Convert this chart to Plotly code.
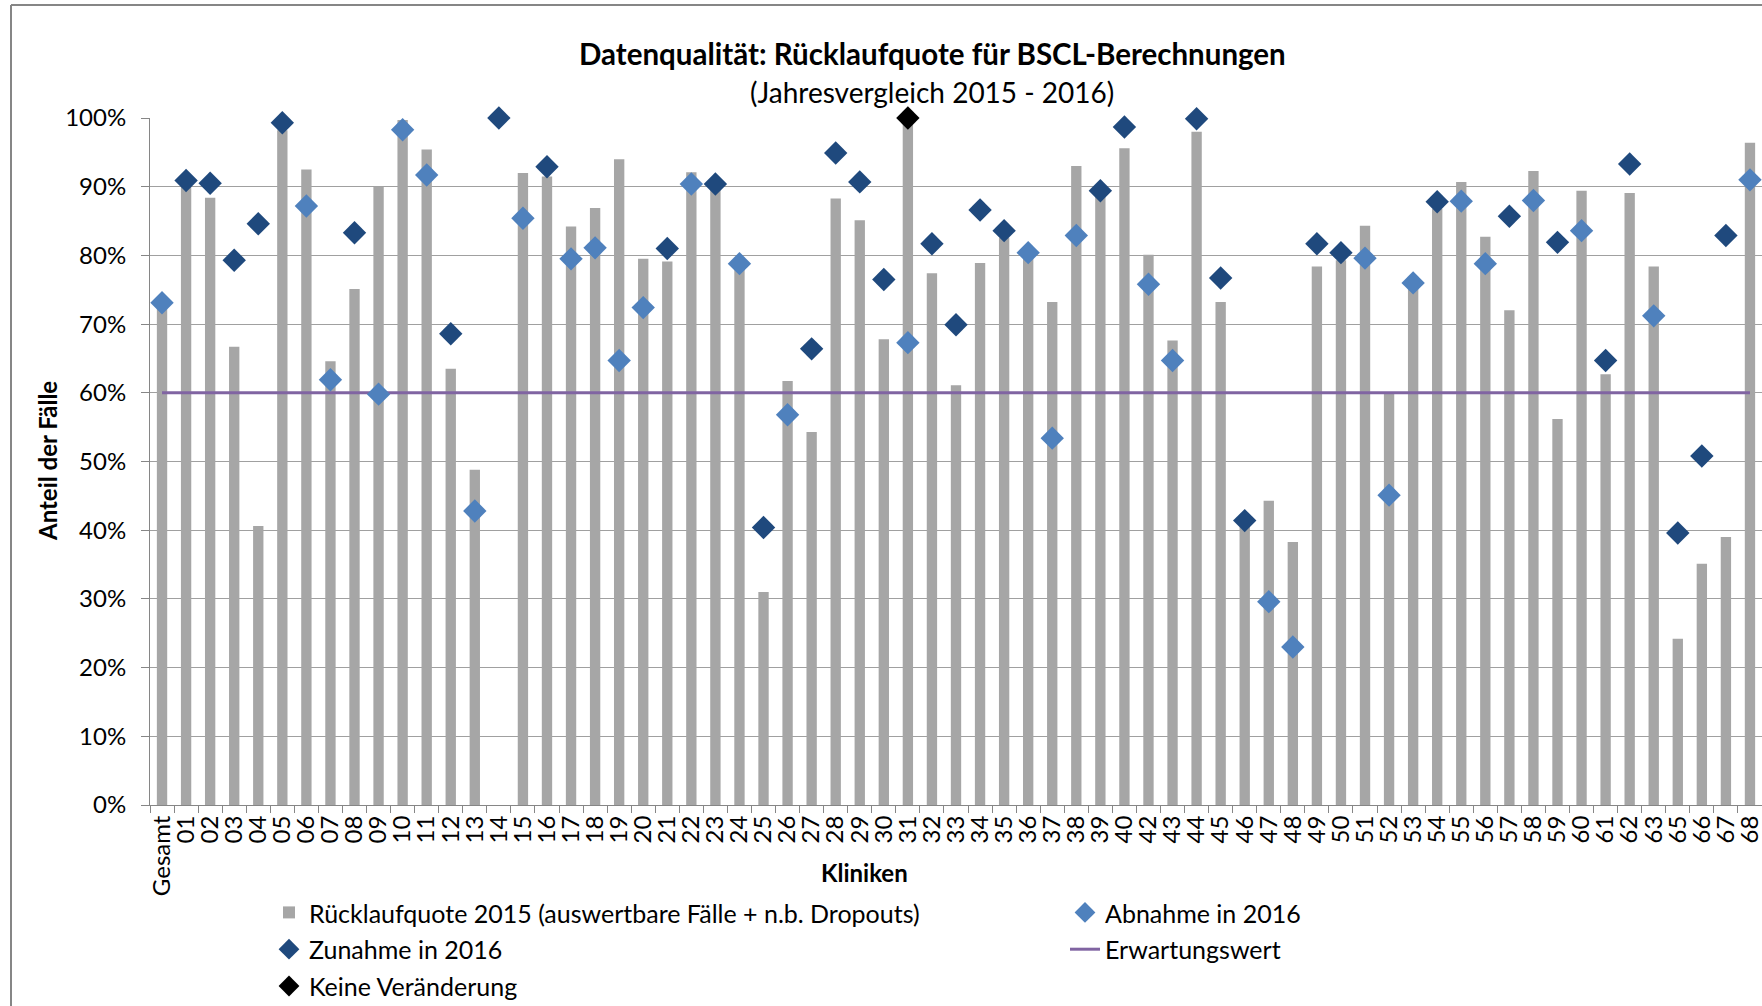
import plotly.graph_objects as go

categories = ["Gesamt", "01", "02", "03", "04", "05", "06", "07", "08", "09", "10",
              "11", "12", "13", "14", "15", "16", "17", "18", "19", "20",
              "21", "22", "23", "24", "25", "26", "27", "28", "29", "30",
              "31", "32", "33", "34", "35", "36", "37", "38", "39", "40",
              "42", "43", "44", "45", "46", "47", "48", "49", "50",
              "51", "52", "53", "54", "55", "56", "57", "58", "59", "60",
              "61", "62", "63", "65", "66", "67", "68"]

rate_2015 = [73.6, 90.0, 88.4, 66.7, 40.6, 98.2, 92.5, 64.6, 75.1, 90.0, 99.7,
             95.4, 63.5, 48.8, None, 92.0, 91.5, 84.2, 86.9, 94.0, 79.5,
             79.1, 92.1, 89.7, 79.5, 31.0, 61.7, 54.3, 88.3, 85.1, 67.8,
             100.0, 77.4, 61.1, 78.9, 82.6, 81.0, 73.2, 93.0, 88.5, 95.6,
             80.1, 67.6, 98.0, 73.2, 40.5, 44.3, 38.3, 78.4, 79.3,
             84.3, 59.9, 76.5, 86.8, 90.7, 82.7, 72.0, 92.3, 56.2, 89.4,
             62.7, 89.1, 78.4, 24.2, 35.1, 39.0, 96.4]

abnahme_2016 = [73.1, None, None, None, None, None, 87.2, 61.9, None, 59.8, 98.3,
                91.7, None, 42.8, None, 85.4, None, 79.5, 81.1, 64.7, 72.4,
                None, 90.4, None, 78.8, None, 56.8, None, None, None, None,
                67.3, None, None, None, None, 80.4, 53.4, 82.9, None, None,
                75.8, 64.7, None, None, None, 29.6, 23.0, None, None,
                79.6, 45.1, 76.0, None, 87.9, 78.8, None, 88.0, None, 83.6,
                None, None, 71.2, None, None, None, 91.0]

zunahme_2016 = [None, 90.9, 90.5, 79.3, 84.6, 99.3, None, None, 83.3, None, None,
                None, 68.6, None, 100.0, None, 92.9, None, None, None, None,
                81.0, None, 90.4, None, 40.4, None, 66.4, 94.9, 90.7, 76.5,
                None, 81.7, 69.9, 86.6, 83.6, None, None, None, 89.4, 98.7,
                None, None, 99.9, 76.7, 41.4, None, None, 81.7, 80.4,
                None, None, None, 87.8, None, None, 85.7, None, 81.9, None,
                64.7, 93.3, None, 39.6, 50.8, 82.9, None]

keine_2016 = [None] * 31 + [100.0] + [None] * 35

erwartungswert = [60.0] * len(categories)

y_ticks = [0, 10, 20, 30, 40, 50, 60, 70, 80, 90, 100]
y_tick_labels = ["0%", "10%", "20%", "30%", "40%", "50%", "60%", "70%",
                 "80%", "90%", "100%"]

title_text = "Datenqualität: Rücklaufquote für BSCL-Berechnungen"
subtitle_text = "(Jahresvergleich 2015 - 2016)"
y_title = "Anteil der Fälle"
x_title = "Kliniken"
legend_names = ["Rücklaufquote 2015 (auswertbare Fälle + n.b. Dropouts)",
                "Abnahme in 2016", "Zunahme in 2016", "Erwartungswert",
                "Keine Veränderung"]

# ---- layout geometry (pixels) ----
W, H = 1762, 1006
L, R, T, B = 150, 0, 118, 201
PW = W - L - R
PH = H - T - B


def px(x):
    return (x - L) / PW


def py(y):
    return (H - B - y) / PH


FONT = "Lato, 'Open Sans', sans-serif"


def lname(s):
    return f"<span style='font-size:25px'>{s}</span>"


fig = go.Figure()

fig.add_trace(go.Bar(
    x=categories, y=rate_2015, name=lname(legend_names[0]),
    marker=dict(color="#A6A6A6", line=dict(width=0)),
    width=0.43, legendrank=1))

fig.add_trace(go.Scatter(
    x=categories, y=erwartungswert, name=lname(legend_names[3]),
    mode="lines", line=dict(color="#8064A2", width=3), legendrank=4,
    cliponaxis=False))

fig.add_trace(go.Scatter(
    x=categories, y=abnahme_2016, name=lname(legend_names[1]),
    mode="markers", marker=dict(symbol="diamond", size=18, color="#4F81BD"),
    legendrank=2, cliponaxis=False))

fig.add_trace(go.Scatter(
    x=categories, y=zunahme_2016, name=lname(legend_names[2]),
    mode="markers", marker=dict(symbol="diamond", size=18, color="#1F497D"),
    legendrank=3, cliponaxis=False))

fig.add_trace(go.Scatter(
    x=categories, y=keine_2016, name=lname(legend_names[4]),
    mode="markers", marker=dict(symbol="diamond", size=18, color="#000000"),
    legendrank=5, cliponaxis=False))

fig.update_layout(
    width=W, height=H,
    margin=dict(l=L, r=R, t=T, b=B, autoexpand=False),
    paper_bgcolor="white", plot_bgcolor="white",
    font=dict(family=FONT, size=24, color="#000000"),
    showlegend=True,
    legend=dict(orientation="h", x=px(269), y=py(889), xanchor="left",
                yanchor="top", entrywidth=751, entrywidthmode="pixels",
                font=dict(family=FONT, size=26, color="#000000"),
                bgcolor="rgba(0,0,0,0)", traceorder="normal"),
    xaxis=dict(type="category", categoryorder="array", categoryarray=categories,
               tickmode="array", tickvals=categories, ticktext=categories,
               range=[-0.5, len(categories) - 0.5],
               tickangle=-90, tickson="boundaries", ticks="outside",
               ticklen=7, tickcolor="#868686", showline=True,
               linecolor="#868686", linewidth=1, showgrid=False,
               tickfont=dict(family=FONT, size=24, color="#000000")),
    yaxis=dict(range=[0, 100], tickmode="array", tickvals=y_ticks,
               ticktext=y_tick_labels,
               ticks="outside", ticklen=8, tickcolor="#868686",
               showline=True, linecolor="#868686", linewidth=1,
               showgrid=True, gridcolor="#A0A0A0", gridwidth=1,
               zeroline=False, ticklabelstandoff=10,
               tickfont=dict(family=FONT, size=24, color="#000000")),
)

annotations = [
    dict(text=f"<b>{title_text}</b>", x=px(932), y=py(53), xref="paper",
         yref="paper", showarrow=False, xanchor="center", yanchor="middle",
         font=dict(family=FONT, size=29.5, color="#000000")),
    dict(text=subtitle_text, x=px(932), y=py(92), xref="paper", yref="paper",
         showarrow=False, xanchor="center", yanchor="middle",
         font=dict(family=FONT, size=28, color="#000000")),
    dict(text=f"<b>{y_title}</b>", x=px(47), y=py(461), xref="paper",
         yref="paper", showarrow=False, xanchor="center", yanchor="middle",
         textangle=-90, font=dict(family=FONT, size=24, color="#000000")),
    dict(text=f"<b>{x_title}</b>", x=px(864), y=py(872), xref="paper",
         yref="paper", showarrow=False, xanchor="center", yanchor="middle",
         font=dict(family=FONT, size=24, color="#000000")),
]
fig.update_layout(annotations=annotations)

# outer chart frame (cropped on right and bottom)
fig.add_shape(type="line", xref="paper", yref="paper",
              x0=px(11), x1=px(11), y0=py(5), y1=py(H + 10),
              line=dict(color="#868686", width=2))
fig.add_shape(type="line", xref="paper", yref="paper",
              x0=px(11), x1=px(W + 10), y0=py(5), y1=py(5),
              line=dict(color="#868686", width=2))

fig.write_html(
    "out.html",
    config={"displayModeBar": False},
    post_script="document.body.style.margin='0px';"
                "document.body.style.overflow='hidden';")
